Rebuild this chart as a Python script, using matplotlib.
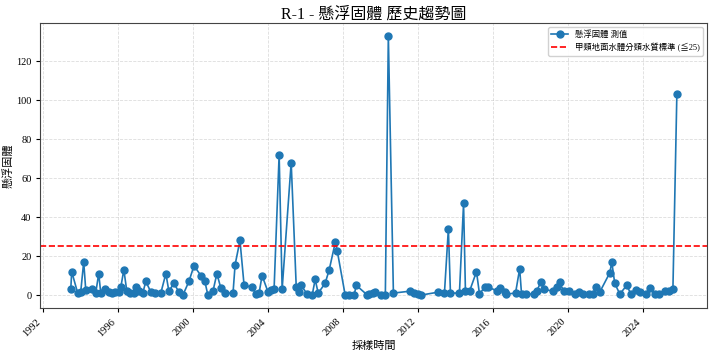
import datetime as dt
import matplotlib
matplotlib.use("Agg")
import matplotlib.pyplot as plt
import matplotlib.dates as mdates

plt.rcParams['font.family'] = ['Liberation Serif', 'Noto Sans CJK TC', 'DejaVu Sans']
plt.rcParams['axes.unicode_minus'] = False

# sampling times as decimal years
years = [
    1993.50, 1993.55, 1993.87, 1994.03, 1994.19, 1994.30, 1994.62, 1994.83, 1994.99, 1995.10,
    1995.31, 1995.53, 1995.69, 1995.85, 1996.06, 1996.17, 1996.33, 1996.49, 1996.65, 1996.86,
    1996.97, 1997.13, 1997.34, 1997.50, 1997.77, 1997.98, 1998.30, 1998.57, 1998.73, 1999.00,
    1999.27, 1999.48, 1999.80, 2000.07, 2000.44, 2000.65, 2000.81, 2001.08, 2001.29, 2001.50,
    2001.72, 2002.15, 2002.26, 2002.52, 2002.74, 2003.16, 2003.38, 2003.54, 2003.70, 2004.02,
    2004.18, 2004.34, 2004.61, 2004.77, 2005.25, 2005.52, 2005.68, 2005.78, 2006.10, 2006.37,
    2006.53, 2006.69, 2007.06, 2007.28, 2007.60, 2007.71, 2008.13, 2008.35, 2008.61, 2008.72,
    2009.31, 2009.41, 2009.63, 2009.74, 2010.06, 2010.27, 2010.43, 2010.70, 2011.60, 2011.82,
    2012.03, 2012.19, 2013.10, 2013.42, 2013.63, 2013.74, 2014.22, 2014.44, 2014.54, 2014.76,
    2015.13, 2015.29, 2015.56, 2015.77, 2016.25, 2016.41, 2016.63, 2016.73, 2017.21, 2017.43,
    2017.53, 2017.75, 2018.18, 2018.34, 2018.55, 2018.71, 2019.19, 2019.40, 2019.56, 2019.78,
    2020.04, 2020.37, 2020.58, 2020.79, 2021.11, 2021.33, 2021.49, 2021.70, 2022.24, 2022.34,
    2022.50, 2022.77, 2023.14, 2023.36, 2023.62, 2023.84, 2024.16, 2024.37, 2024.64, 2024.85,
    2025.17, 2025.39, 2025.60, 2025.81,
]

# suspended solids (mg/L)
ss_values = [
    3, 12, 1, 1.5, 17, 2.5, 3, 1, 11, 1,
    3, 1.5, 1, 1.5, 1.5, 4, 13, 2, 1, 1,
    4, 2, 1, 7, 1.5, 1, 1, 11, 2, 6,
    1.5, 0, 7, 15, 10, 7, 0, 2, 11, 3.5,
    1, 1, 15.5, 28, 5, 4, 0.5, 1, 10, 1.5,
    2.5, 3, 72, 3, 68, 4, 1.5, 5, 0.5, 0,
    8, 1, 6, 13, 27, 22.5, 0, 0, 0, 5,
    0, 0.5, 1, 1.5, 0, 0, 133, 1, 2, 1,
    0.5, 0, 1.5, 1, 34, 1, 1, 47, 2, 2,
    12, 0.5, 4, 4, 2, 3.5, 1.5, 0.5, 1, 13.5,
    0.5, 0.5, 0.5, 2, 6.5, 3, 2, 4, 6.5, 2,
    2, 0.5, 1.5, 0.5, 0.5, 0.5, 4, 1.5, 11.5, 17,
    6, 0.5, 5, 0.5, 2.5, 1.5, 0.5, 3.5, 0.5, 0.5,
    2, 2, 3, 103,
]

standard_limit = 25

title = 'R-1 - 懸浮固體 歷史趨勢圖'
series_label = '懸浮固體 測值'
limit_label = '甲類地面水體分類水質標準 (≦25)'
x_label = '採樣時間'
y_label = '懸浮固體'


def to_date(y):
    year = int(y)
    start = dt.datetime(year, 1, 1)
    return start + dt.timedelta(days=(y - year) * 365.25)


dates = [to_date(y) for y in years]

fig = plt.figure(figsize=(7.1, 3.52), dpi=100)
ax = fig.add_axes([0.057, 0.125, 0.939, 0.81])

ax.plot(dates, ss_values, color='#1f77b4', marker='o', markersize=5,
        linewidth=1.2, label=series_label)
ax.axhline(y=standard_limit, color='red', linestyle='--', linewidth=1.2,
           label=limit_label)

ax.xaxis.set_major_locator(mdates.YearLocator(4))
ax.xaxis.set_major_formatter(mdates.DateFormatter('%Y'))
plt.setp(ax.get_xticklabels(), rotation=45, ha='right')

ax.set_title(title, fontsize=11.5, pad=3)
ax.set_xlabel(x_label, fontsize=8, labelpad=2)
ax.set_ylabel(y_label, fontsize=8, labelpad=2)
ax.tick_params(labelsize=7.5, length=3)
ax.grid(True, linestyle='--', alpha=0.5, color='#bbbbbb', linewidth=0.6)

for s in ax.spines.values():
    s.set_color('#444444')

ax.legend(loc='upper right', fontsize=6, framealpha=0.9)

fig.savefig('out.png', dpi=100)
